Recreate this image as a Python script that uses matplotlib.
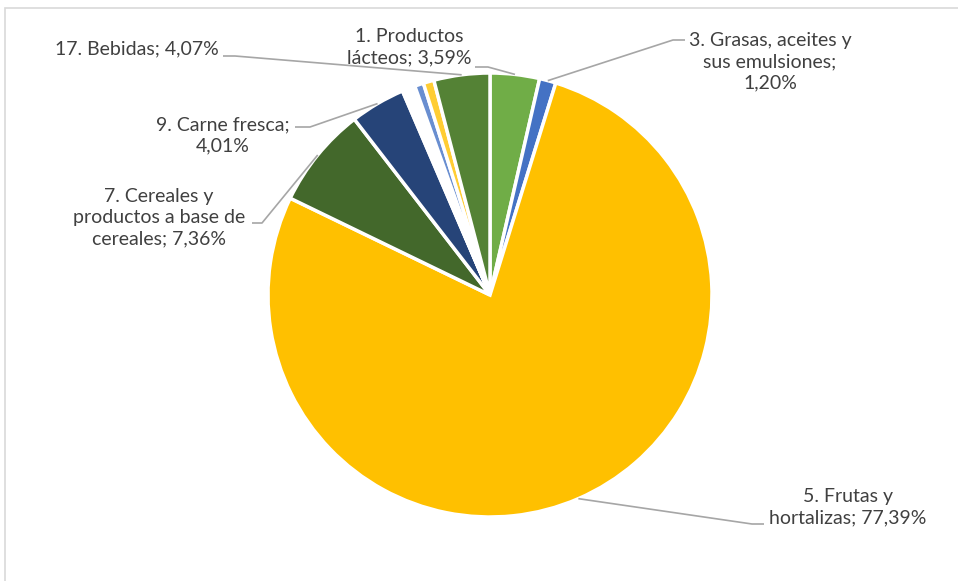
import numpy as np
import matplotlib.pyplot as plt
from matplotlib.patches import Rectangle

# Datos del gráfico (sentido horario desde arriba)
categorias = ['1. Productos\nlácteos; 3,59%', '3. Grasas, aceites y\nsus emulsiones;\n1,20%',
              '5. Frutas y\nhortalizas; 77,39%', '7. Cereales y\nproductos a base de\ncereales; 7,36%',
              '9. Carne fresca;\n4,01%', '', '', '', '', '17. Bebidas; 4,07%']
valores = [3.59, 1.20, 77.39, 7.36, 4.01, 0.10, 0.85, 0.65, 0.78, 4.07]
colores = ['#70AD47', '#4472C4', '#FFC000', '#43682B', '#264478',
           '#997300', '#FFFFFF', '#698ED0', '#FFCD33', '#548235']

W, H = 958, 581
fig = plt.figure(figsize=(W / 100, H / 100), dpi=100)
ax = fig.add_axes([0, 0, 1, 1])

# marco del área del gráfico
fig.patches.append(Rectangle((5 / W, -0.1), 1.1, (H - 8) / H + 0.1, transform=fig.transFigure,
                             fill=False, edgecolor='#D9D9D9', linewidth=1.2))

cx, cy, r = 490, H - 295, 222
ax.pie(valores, colors=colores, startangle=90, counterclock=False, center=(cx, cy), radius=r,
       wedgeprops=dict(edgecolor='white', linewidth=2.5), frame=True)
ax.set_xlim(0, W)
ax.set_ylim(0, H)
ax.set_aspect('equal')
ax.axis('off')

# posición del texto y codo de la línea guía (en píxeles de la imagen)
etiquetas = {
    0: ((409, 47), [(488, 67), (475, 67)]),
    1: ((770, 62), [(673, 40), (685, 40)]),
    2: ((848, 507), [(752, 524), (764, 524)]),
    3: ((159, 218), [(262, 223), (252, 223)]),
    4: ((223, 135), [(310, 127), (295, 127)]),
    9: ((137, 49), [(235, 56), (223, 56)]),
}

frac = np.cumsum([0] + valores) / sum(valores)
for i, ((tx, ty), codo) in etiquetas.items():
    ang = np.deg2rad(90 - 360 * (frac[i] + frac[i + 1]) / 2)
    px, py = cx + r * np.cos(ang), cy + r * np.sin(ang)
    xs = [px] + [p[0] for p in codo]
    ys = [py] + [H - p[1] for p in codo]
    ax.plot(xs, ys, color='#A6A6A6', linewidth=1.2, solid_capstyle='butt')
    ax.text(tx, H - ty, categorias[i], ha='center', va='center', fontsize=14,
            color='#404040', linespacing=1.3, family=['Lato', 'DejaVu Sans'])

fig.savefig('out.png', dpi=100)
